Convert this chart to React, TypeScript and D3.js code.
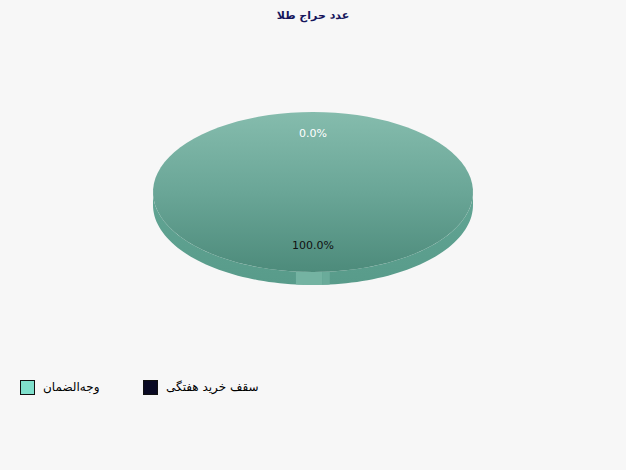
import React from "react"
import * as d3 from "d3"

const title = "عدد حراج طلا"
const categories = ["وجه‌الضمان", "سقف خرید هفتگی"]
const values = [100, 0]
const legendColors = ["#7fe0cc", "#0a0a23"]
const labelColors = ["#111111", "#ffffff"]

const W = 626
const H = 470
const cx = 313
const cy = 192
const rx = 160
const ry = 80
const depth = 13

// point on the ellipse, angle measured clockwise from 12 o'clock
const pt = (a: number, dy = 0): [number, number] => [cx + rx * Math.sin(a), cy - ry * Math.cos(a) + dy]

const ellipsePath = (a0: number, a1: number, dy = 0, n = 90) => {
    const p = d3.path()
    for (let i = 0; i <= n; i++) {
        const [x, y] = pt(a0 + (a1 - a0) * i / n, dy)
        if (i === 0) p.moveTo(x, y)
        else p.lineTo(x, y)
    }
    return p
}

const sidePath = (a0: number, a1: number) => {
    const n = 90
    const p = d3.path()
    for (let i = 0; i <= n; i++) {
        const [x, y] = pt(a0 + (a1 - a0) * i / n)
        if (i === 0) p.moveTo(x, y)
        else p.lineTo(x, y)
    }
    for (let i = n; i >= 0; i--) {
        const [x, y] = pt(a0 + (a1 - a0) * i / n, depth)
        p.lineTo(x, y)
    }
    p.closePath()
    return p.toString()
}

const App = () => {
    const pie = d3.pie<number>().sort(null).value(d => d)
    const arcs = pie(values)
    const fmt = d3.format(".1f")
    const total = d3.sum(values)

    return (
        <svg width={W} height={H} style={{position: "absolute", left: 0, top: 0, display: "block"}}
             fontFamily="DejaVu Sans, sans-serif">
            <defs>
                <linearGradient id="topGrad" x1="0" y1="0" x2="0" y2="1">
                    <stop offset="0" stopColor="#85bcad"/>
                    <stop offset="0.5" stopColor="#6aa697"/>
                    <stop offset="1" stopColor="#4d8b7b"/>
                </linearGradient>
                <linearGradient id="sideGrad" x1="0" y1="0" x2="0" y2="1">
                    <stop offset="0" stopColor="#62a594"/>
                    <stop offset="1" stopColor="#589b8a"/>
                </linearGradient>
            </defs>
            <rect width={W} height={H} fill="#f7f7f7"/>
            <text x={cx} y={19} textAnchor="middle" fontSize={11} fontWeight="bold" fill="#16165c">{title}</text>

            {/* side wall of front half */}
            <path d={sidePath(Math.PI / 2, Math.PI * 1.5)} fill="url(#sideGrad)"/>
            {/* slice edge highlight on the wall */}
            <path d={sidePath(Math.PI - 0.058, Math.PI + 0.107)} fill="#79b7a6" opacity={0.85}/>
            <path d={sidePath(Math.PI - 0.105, Math.PI - 0.058)} fill="#6dae9c" opacity={0.85}/>

            {/* top face */}
            {arcs.map((a, i) => a.endAngle - a.startAngle > 0 && (
                <path key={i}
                      d={(() => {
                          const p = ellipsePath(a.startAngle, a.endAngle)
                          if (a.endAngle - a.startAngle < Math.PI * 2) p.lineTo(cx, cy)
                          p.closePath()
                          return p.toString()
                      })()}
                      fill="url(#topGrad)"/>
            ))}

            {/* labels */}
            {arcs.map((a, i) => {
                const mid = (a.startAngle + a.endAngle) / 2
                const [x, y] = [cx + rx * 0.7 * Math.sin(mid), cy - ry * 0.7 * Math.cos(mid)]
                return (
                    <text key={i} x={x} y={y - 3} textAnchor="middle" dominantBaseline="central"
                          fontSize={11} fill={labelColors[i]}>
                        {fmt(values[i] / total * 100)}%
                    </text>
                )
            })}

            {/* legend */}
            {categories.map((c, i) => (
                <g key={c} transform={`translate(${20 + i * 123}, 380)`}>
                    <rect x={0.5} y={0.5} width={14} height={14} fill={legendColors[i]} stroke="#111" strokeWidth={1}/>
                    <text x={23} y={11} fontSize={12} fill="#000">{c}</text>
                </g>
            ))}
        </svg>
    )
}

export default App
